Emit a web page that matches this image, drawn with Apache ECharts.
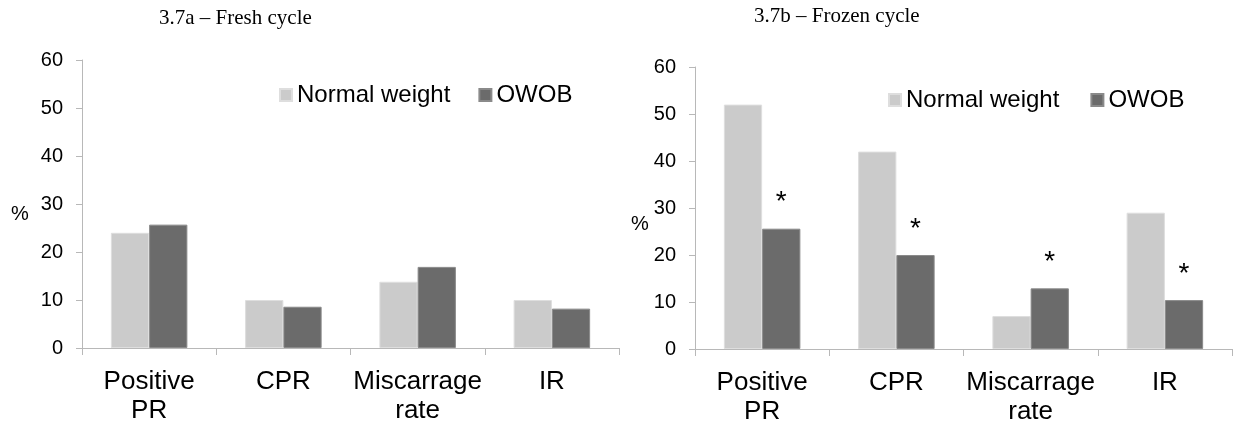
<!DOCTYPE html>
<html>
<head>
<meta charset="utf-8">
<script src="https://cdn.jsdelivr.net/npm/echarts@6/dist/echarts.min.js"></script>
<style>
html,body{margin:0;padding:0;background:#fff;}
#c{width:1236px;height:432px;}
</style>
</head>
<body>
<div id="c"></div>
<script>
// ---- data ----
const categories = ['Positive\nPR', 'CPR', 'Miscarrage\nrate', 'IR'];
const seriesNames = ['Normal weight', 'OWOB'];
const freshNormal = [24, 10, 13.8, 10];
const freshOWOB = [25.7, 8.6, 16.9, 8.2];
const frozenNormal = [52, 42, 7, 29];
const frozenOWOB = [25.6, 20, 12.9, 10.4];
const frozenOWOBMarks = ['*', '*', '*', '*'];
const yTicks = { min: 0, max: 60, interval: 10 };
const titles = ['3.7a \u2013 Fresh cycle', '3.7b \u2013 Frozen cycle'];

const LIGHT = '#cbcbcb', DARK = '#6b6b6b', AXIS = '#b8b8b8';
const FONT = 'Liberation Sans, Arial, sans-serif';
const SERIF = 'Liberation Serif, Times New Roman, serif';

const chart = echarts.init(document.getElementById('c'), null, {renderer: 'canvas'});

function xAx(i) {
  return {
    type: 'category', gridIndex: i, data: categories,
    axisLine: {lineStyle: {color: AXIS, width: 1}},
    axisTick: {show: true, length: 7, lineStyle: {color: AXIS}},
    axisLabel: {color: '#000', fontSize: 26, fontFamily: FONT, margin: 19, lineHeight: 29, interval: 0}
  };
}
function yAx(i) {
  return {
    type: 'value', gridIndex: i, min: yTicks.min, max: yTicks.max, interval: yTicks.interval,
    axisLine: {show: true, lineStyle: {color: AXIS, width: 1}},
    axisTick: {show: true, length: 6, lineStyle: {color: AXIS}},
    splitLine: {show: false},
    axisLabel: {color: '#000', fontSize: 20, fontFamily: FONT, margin: 19}
  };
}
function bar(name, data, i, color, border, extra) {
  return Object.assign({
    type: 'bar', name: name, data: data, xAxisIndex: i, yAxisIndex: i,
    barGap: '0%', barCategoryGap: '43%',
    itemStyle: {color: color, borderColor: border, borderWidth: 1},
    emphasis: {disabled: true}, animation: false
  }, extra || {});
}

const option = {
  animation: false,
  title: [
    {text: titles[0], left: 159, top: 8, padding: 0, textStyle: {fontFamily: SERIF, fontWeight: 'normal', fontSize: 21, color: '#000'}},
    {text: titles[1], left: 754, top: 6, padding: 0, textStyle: {fontFamily: SERIF, fontWeight: 'normal', fontSize: 21, color: '#000'}}
  ],
  legend: [
    {data: seriesNames, left: 279, top: 83, padding: 0, itemWidth: 12, itemHeight: 12, itemGap: 28,
     icon: 'rect', textStyle: {fontSize: 24, fontFamily: FONT, color: '#000'}, selectedMode: false},
    {data: seriesNames, left: 888, top: 88, padding: 0, itemWidth: 12, itemHeight: 12, itemGap: 31,
     icon: 'rect', textStyle: {fontSize: 24, fontFamily: FONT, color: '#000'}, selectedMode: false}
  ],
  grid: [
    {left: 82, top: 60, width: 537, height: 288},
    {left: 695, top: 67, width: 537, height: 282}
  ],
  xAxis: [xAx(0), xAx(1)],
  yAxis: [yAx(0), yAx(1)],
  graphic: [
    {type: 'text', left: 11, top: 204, style: {text: '%', fontSize: 20, fontFamily: FONT, fill: '#000'}},
    {type: 'text', left: 631, top: 214, style: {text: '%', fontSize: 20, fontFamily: FONT, fill: '#000'}}
  ],
  series: [
    bar(seriesNames[0], freshNormal, 0, LIGHT, '#dedede'),
    bar(seriesNames[1], freshOWOB, 0, DARK, '#8a8a8a'),
    bar(seriesNames[0], frozenNormal, 1, LIGHT, '#dedede'),
    bar(seriesNames[1], frozenOWOB, 1, DARK, '#8a8a8a', {
      label: {show: true, position: 'top', distance: 12, fontSize: 28, fontFamily: FONT, color: '#000',
        formatter: function (p) { return frozenOWOBMarks[p.dataIndex]; }}
    })
  ]
};
chart.setOption(option);
</script>
</body>
</html>
